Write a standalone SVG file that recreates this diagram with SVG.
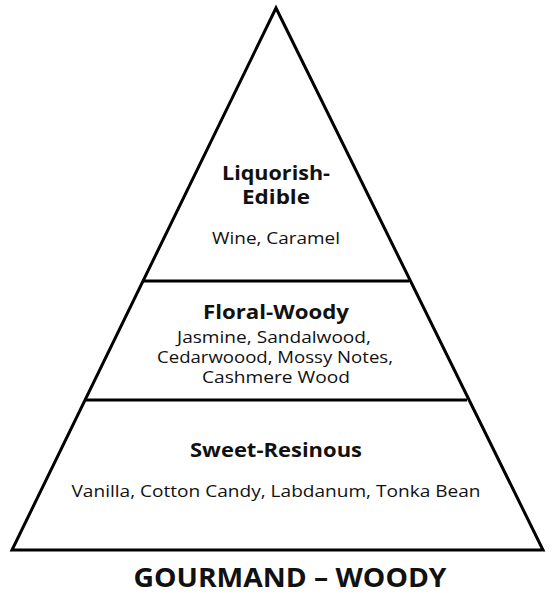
<svg xmlns="http://www.w3.org/2000/svg" width="556" height="606" viewBox="0 0 556 606">
<style>
.edge{fill:none;stroke:#000;stroke-width:3;stroke-linejoin:miter}
.t{font-family:"Open Sans","DejaVu Sans",sans-serif;fill:#111;text-anchor:middle}
.h{font-weight:bold;font-size:19.5px}
.b{font-size:17px}
.ttl{font-weight:bold;font-size:27px}
</style>
<rect width="556" height="606" fill="#fff"/>
<g id="pyramid">
<polygon class="edge" points="276,8 12,550 543,550"/>
</g>
<g id="connectors">
<line class="edge" x1="143" y1="281" x2="409" y2="281"/>
<line class="edge" x1="85" y1="400" x2="467" y2="400"/>
</g>
<g id="top">
<text class="t h" x="276" y="180" textLength="108" lengthAdjust="spacingAndGlyphs">Liquorish-</text>
<text class="t h" x="276" y="204" textLength="68" lengthAdjust="spacingAndGlyphs">Edible</text>
<text class="t b" x="276" y="244" textLength="128" lengthAdjust="spacingAndGlyphs">Wine, Caramel</text>
</g>
<g id="middle">
<text class="t h" x="276" y="319" textLength="146" lengthAdjust="spacingAndGlyphs">Floral-Woody</text>
<text class="t b" x="274" y="343" textLength="194" lengthAdjust="spacingAndGlyphs">Jasmine, Sandalwood,</text>
<text class="t b" x="275" y="363" textLength="236" lengthAdjust="spacingAndGlyphs">Cedarwoood, Mossy Notes,</text>
<text class="t b" x="276" y="383" textLength="148" lengthAdjust="spacingAndGlyphs">Cashmere Wood</text>
</g>
<g id="base">
<text class="t h" x="276" y="457" textLength="172" lengthAdjust="spacingAndGlyphs">Sweet-Resinous</text>
<text class="t b" x="276" y="497" textLength="409" lengthAdjust="spacingAndGlyphs">Vanilla, Cotton Candy, Labdanum, Tonka Bean</text>
</g>
<g id="title">
<text class="t ttl" x="290" y="587" textLength="313" lengthAdjust="spacingAndGlyphs">GOURMAND – WOODY</text>
</g>
</svg>
